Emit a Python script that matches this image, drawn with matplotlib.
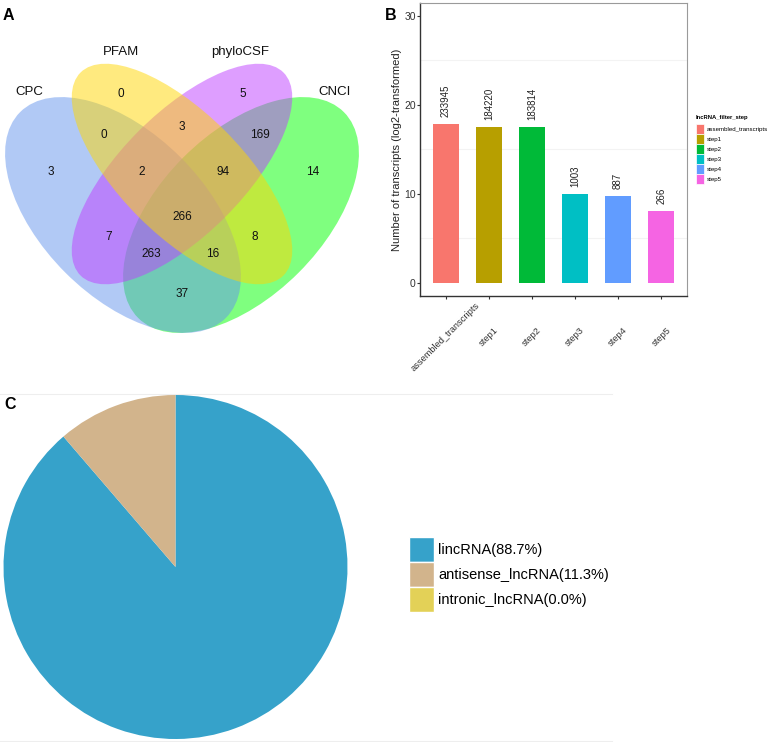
import numpy as np
import matplotlib
matplotlib.use("Agg")
import matplotlib.pyplot as plt
from matplotlib.patches import Ellipse, Patch

plt.rcParams['font.family'] = ['Liberation Sans', 'DejaVu Sans']

# ---- data ----
set_names = ["CPC", "PFAM", "phyloCSF", "CNCI"]
set_colors = ["cornflowerblue", "gold", "#BF3EFF", "#00FF00"]
# venn region counts (sets in region)
region_sets = ["CPC", "PFAM", "phyloCSF", "CNCI",
               "CPC&PFAM", "PFAM&phyloCSF", "phyloCSF&CNCI",
               "CPC&PFAM&phyloCSF", "PFAM&phyloCSF&CNCI", "all",
               "CPC&phyloCSF", "PFAM&CNCI", "CPC&phyloCSF&CNCI",
               "CPC&PFAM&CNCI", "CPC&CNCI"]
region_counts = [3, 0, 5, 14, 0, 3, 169, 2, 94, 266, 7, 8, 263, 16, 37]

steps = ["assembled_transcripts", "step1", "step2", "step3", "step4", "step5"]
transcripts = [233945, 184220, 183814, 1003, 887, 266]
step_colors = ["#F8766D", "#B79F00", "#00BA38", "#00BFC4", "#619CFF", "#F564E3"]

lnc_types = ["lincRNA", "antisense_lncRNA", "intronic_lncRNA"]
lnc_pct = [88.7, 11.3, 0.0]
lnc_colors = ["#36A2CA", "#D2B48C", "#E3D157"]

# ---- layout (pixels) ----
W, H = 769, 742
fig = plt.figure(figsize=(W / 100, H / 100), dpi=100)


def px_axes(x0, y0, x1, y1):
    return fig.add_axes([x0 / W, 1 - y1 / H, (x1 - x0) / W, (y1 - y0) / H])


ov = px_axes(0, 0, W, H)
ov.set_xlim(0, W)
ov.set_ylim(H, 0)
ov.axis("off")
for yy in (394, 741):
    ov.plot([0, 612], [yy, yy], color="#EEEEEE", lw=0.8)
for lab, xx, yy in (("A", 3, 20), ("B", 385, 20), ("C", 4, 409)):
    ov.text(xx, yy, lab, fontsize=11.5, fontweight="bold", va="baseline")

# ---- A: venn ----
va = px_axes(0, 0, 380, 360)
va.set_xlim(0, 380)
va.set_ylim(360, 0)
va.axis("off")

ell = {
    "CPC": (123, 215, 291, 163, 45),
    "PFAM": (182, 174, 287, 122, 45),
    "phyloCSF": (182, 174, 287, 122, -45),
    "CNCI": (241, 215, 291, 163, -45),
}
for name in ["CNCI", "CPC", "phyloCSF", "PFAM"]:
    cx, cy, w, h, ang = ell[name]
    col = set_colors[set_names.index(name)]
    va.add_patch(Ellipse((cx, cy), w, h, angle=ang, facecolor=col,
                         alpha=0.5, lw=0))

name_pos = [(29, 92), (121, 52), (240, 52), (335, 92)]
for name, (x, y) in zip(set_names, name_pos):
    va.text(x, y, name, fontsize=9.5, ha="center", va="center", color="#111111")

count_pos = [(51, 172), (121, 94), (243, 94), (313, 172),
             (104, 135), (182, 127), (260, 135),
             (142, 172), (223, 172), (182, 217),
             (109, 237), (255, 237), (151, 254),
             (213, 254), (182, 294)]
for c, (x, y) in zip(region_counts, count_pos):
    va.text(x, y, str(c), fontsize=8.5, ha="center", va="center", color="#111111")

# ---- B: bar chart ----
ax = px_axes(420, 2.7, 687, 296)
xs = np.arange(1, len(steps) + 1)
heights = np.log2(transcripts)
for yy in (5, 15, 25):
    ax.axhline(yy, color="#F3F3F3", lw=0.8, zorder=0)
ax.bar(xs, heights, width=0.6, color=step_colors, zorder=2)
for xi, hgt, v in zip(xs, heights, transcripts):
    ax.annotate(str(v), (xi, hgt), xytext=(0, 5), textcoords="offset points",
                rotation=90, ha="center", va="bottom", fontsize=7, color="#222222")
ax.set_xlim(0.4, 6.6)
ax.set_ylim(-1.5, 31.5)
ax.set_yticks([0, 10, 20, 30])
ax.set_xticks(xs)
ax.set_xticklabels(steps, rotation=45, ha="center", va="center", fontsize=6.7,
                   color="#333333")
ax.tick_params(axis="x", length=2.2, pad=27, color="#333333")
ax.tick_params(axis="y", length=2.2, pad=0.8, labelsize=7.5, color="#333333",
               labelcolor="#333333")
ax.set_ylabel("Number of transcripts (log2-transformed)", fontsize=8,
              labelpad=1.5, color="#222222")
for s in ("left", "bottom"):
    ax.spines[s].set_color("#333333")
    ax.spines[s].set_linewidth(1.0)
for s in ("top", "right"):
    ax.spines[s].set_color("#9A9A9A")
    ax.spines[s].set_linewidth(0.8)

fs_b = 4.4
hb = [Patch(facecolor=c, edgecolor="white", lw=0.5) for c in step_colors]
leg_b = fig.legend(hb, steps, loc="upper left", bbox_to_anchor=(696 / W, 1 - 115 / H),
                   frameon=False, fontsize=fs_b, title="lncRNA_filter_step",
                   title_fontproperties={"weight": "bold", "size": 4.2},
                   alignment="left", handlelength=1.31, handleheight=2.14,
                   labelspacing=0, handletextpad=0.5, borderpad=0, borderaxespad=0)
leg_b._legend_box.sep = 3

# ---- C: pie ----
pc = px_axes(175.5 - 172, 567 - 172, 175.5 + 172, 567 + 172)
pc.pie(lnc_pct, colors=lnc_colors, startangle=90, counterclock=False,
       wedgeprops={"linewidth": 0})
pc.set_aspect("auto")
pc.set_xlim(-1, 1)
pc.set_ylim(-1, 1)
pc.axis("off")

hc = [Patch(facecolor=c, edgecolor="white", lw=1) for c in lnc_colors]
lc_labels = [f"{n}({p:.1f}%)" for n, p in zip(lnc_types, lnc_pct)]
fig.legend(hc, lc_labels, loc="upper left", bbox_to_anchor=(409 / W, 1 - 537 / H),
           frameon=False, fontsize=10.5, handlelength=1.71, handleheight=2.26,
           labelspacing=0, handletextpad=0.28, borderpad=0, borderaxespad=0)

fig.savefig("out.png", dpi=100)
